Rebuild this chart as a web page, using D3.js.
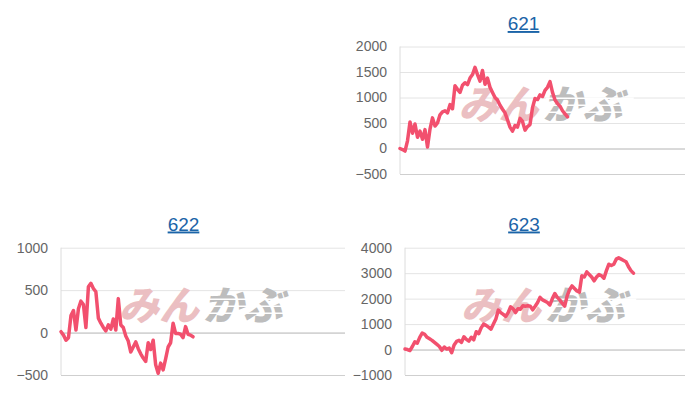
<!DOCTYPE html>
<html>
<head>
<meta charset="utf-8">
<script src="https://cdn.jsdelivr.net/npm/d3@7"></script>
<style>
  html, body { margin: 0; padding: 0; background: #fff; }
  svg { display: block; }
</style>
</head>
<body>
<svg id="chart" width="700" height="400"></svg>
<script>
// ---------------- data ----------------
const periodLength = 114;               // number of x slots in each chart's period
const titles = ["621", "622", "623"];

const values621 = [0, -20, -50, 150, 520, 300, 480, 220, 340, 180, 370, 30, 380, 600, 440, 500,
  660, 720, 740, 700, 860, 780, 1230, 1160, 1100, 1240, 1290, 1250, 1380, 1450, 1590, 1450,
  1320, 1530, 1260, 1380, 1200, 1100, 1000, 950, 850, 770, 700, 560, 420, 340, 450, 420,
  590, 530, 360, 430, 470, 800, 980, 960, 1050, 1020, 1140, 1200, 1310, 1100, 950, 880,
  830, 740, 680, 620];

const values622 = [10, -30, -90, -60, 200, 260, 30, 280, 370, 330, 60, 540, 580, 520, 480, 170,
  110, 60, 20, 90, 40, 160, 30, 400, 90, 60, -40, -100, -230, -170, -110, -190, -250, -300,
  -340, -120, -200, -90, -380, -480, -360, -440, -310, -170, -120, 110, -10, -10, -20, -60,
  70, -20, -30, -50];

const values623 = [20, 0, -40, 120, 300, 250, 480, 650, 600, 480, 420, 360, 280, 200, 120, -30,
  100, 20, 60, -120, 180, 320, 360, 280, 500, 400, 330, 480, 380, 700, 620, 850, 1000, 950,
  880, 800, 1000, 1200, 1550, 1450, 1380, 1300, 1450, 1680, 1600, 1450, 1600, 1580, 1720,
  1700, 1720, 1700, 1560, 1700, 1850, 2050, 1950, 1900, 1850, 1750, 2000, 2200, 2050, 1950,
  1820, 1700, 2100, 2350, 2500, 2400, 2300, 2250, 2900, 2850, 3050, 2950, 2850, 2700, 2850,
  2950, 2900, 2800, 3100, 3350, 3300, 3350, 3550, 3600, 3550, 3500, 3450, 3250, 3100, 3000];

const ticks621 = [-500, 0, 500, 1000, 1500, 2000];
const ticks622 = [-500, 0, 500, 1000];
const ticks623 = [-1000, 0, 1000, 2000, 3000, 4000];

// ---------------- layout ----------------
const panels = [
  { title: titles[0], values: values621, ticks: ticks621, x0: 400, x1: 685, yT: 46.5, yB: 174, tx: 523.5, ty: 30 },
  { title: titles[1], values: values622, ticks: ticks622, x0: 61,  x1: 345, yT: 247.7, yB: 375, tx: 183.5, ty: 230.5 },
  { title: titles[2], values: values623, ticks: ticks623, x0: 405, x1: 685, yT: 247.7, yB: 375, tx: 524, ty: 230.5 }
];

const svg = d3.select("#chart");
const FONT = "'Liberation Sans', Arial, Helvetica, sans-serif";
const LINE = "#f2506e";

panels.forEach(p => {
  const g = svg.append("g");
  const x = d3.scaleLinear().domain([0, periodLength]).range([p.x0, p.x1]);
  const y = d3.scaleLinear().domain([d3.min(p.ticks), d3.max(p.ticks)]).range([p.yB, p.yT]);

  // title (link style)
  g.append("text")
    .attr("x", p.tx).attr("y", p.ty)
    .attr("text-anchor", "middle")
    .style("font-family", FONT)
    .style("font-size", "19px")
    .style("fill", "#1b64a8")
    .style("text-decoration", "underline")
    .text(p.title);

  // y axis with gridlines
  const ax = g.append("g")
    .attr("transform", `translate(${p.x0},0)`)
    .call(d3.axisLeft(y).tickValues(p.ticks).tickSizeInner(-(p.x1 - p.x0)).tickSizeOuter(0).tickPadding(13)
      .tickFormat(d3.format("d")));
  ax.select(".domain").remove();
  ax.selectAll(".tick line")
    .attr("stroke", d => d === 0 ? "#b4b4b4" : (d === d3.min(p.ticks) ? "#cfcfcf" : "#e4e4e4"))
    .attr("stroke-width", 1);
  ax.selectAll(".tick text")
    .style("font-family", FONT)
    .style("font-size", "14px")
    .style("fill", "#666");

  // vertical axis line
  g.append("line")
    .attr("x1", p.x0).attr("x2", p.x0)
    .attr("y1", p.yT).attr("y2", p.yB)
    .attr("stroke", "#dcdcdc");

  // watermark
  const cx = (p.x0 + p.x1) / 2 - 2;
  const cy = (p.yT + p.yB) / 2 + 9;
  const wm = g.append("g").attr("transform", `translate(${cx},${cy}) skewX(-14)`);
  wm.append("text")
    .attr("x", -2).attr("y", 0)
    .attr("text-anchor", "end")
    .style("font-family", "'Noto Sans CJK JP', sans-serif")
    .style("font-weight", 900)
    .style("font-size", "40px")
    .style("fill", "#ebbfc2")
    .text("みん");
  wm.append("text")
    .attr("x", 2).attr("y", 0)
    .attr("text-anchor", "start")
    .style("font-family", "'Noto Sans CJK JP', sans-serif")
    .style("font-weight", 900)
    .style("font-size", "40px")
    .style("fill", "#bdbdbd")
    .text("かぶ");
  [-21, -14, -7].forEach(dy => {
    wm.append("line")
      .attr("x1", 0).attr("x2", 88)
      .attr("y1", dy).attr("y2", dy)
      .attr("stroke", "#fff").attr("stroke-width", 1.5);
  });

  // series line
  const line = d3.line()
    .x((d, i) => x(i))
    .y(d => y(d));
  g.append("path")
    .datum(p.values)
    .attr("d", line)
    .attr("fill", "none")
    .attr("stroke", LINE)
    .attr("stroke-width", 3.5)
    .attr("stroke-linejoin", "round")
    .attr("stroke-linecap", "round");
});
</script>
</body>
</html>
